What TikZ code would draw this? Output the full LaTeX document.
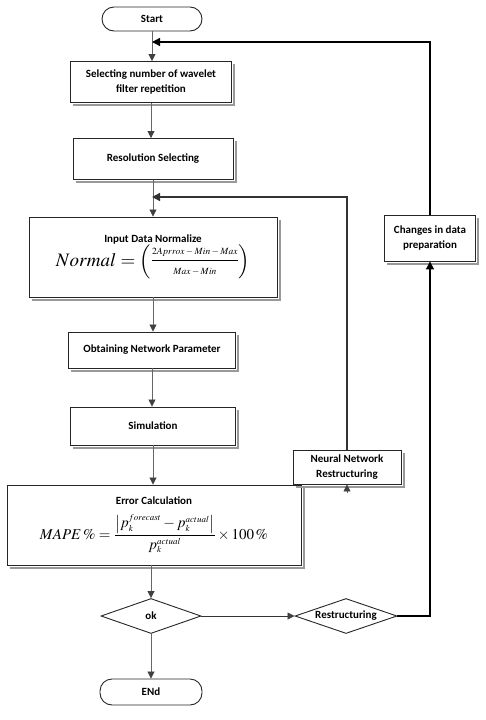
\documentclass[tikz,border=0pt]{standalone}
\usepackage{mathptmx}
\usepackage{fontspec}
\setmainfont{Carlito}
\usetikzlibrary{arrows.meta, shapes.geometric}

\newcommand{\tinysc}[1]{{\scriptscriptstyle #1}}

\begin{document}
\begin{tikzpicture}[
  x=1pt, y=-1pt,
  font=\fontsize{11}{15}\selectfont\bfseries,
  box/.style={rectangle, draw=black!85, line width=0.9pt, fill=white,
              align=center, inner sep=1pt},
  term/.style={box, rounded corners=12pt},
  decide/.style={diamond, draw=black!85, line width=0.9pt, fill=white,
                 inner sep=0pt, aspect=2.9, minimum width=100pt,
                 minimum height=35pt},
  boxshadow/.style={draw=black!40, line width=2pt},
  flow/.style={-{Triangle[length=7pt, width=7pt, color=black!75]},
               draw=black!60, line width=0.8pt},
  back/.style={-{Triangle[length=8pt, width=8pt]}, draw=black,
               line width=1.3pt}
]
  \useasboundingbox (0,0) rectangle (486,720);

  \node[term, minimum width=100pt, minimum height=24pt] (start) at (152,19) {Start};
  \node[box, minimum width=161pt, minimum height=41pt] (sel) at (151,82)
    {Selecting number of wavelet\\filter repetition};
  \node[box, minimum width=160pt, minimum height=41pt] (res) at (153,159) {Resolution Selecting};
  \node[box, minimum width=248pt, minimum height=80pt] (norm) at (153,257)
    {Input Data Normalize\\[-1pt]
     \fontsize{19}{21}\selectfont\mdseries$Normal=\left(\vcenter{\hbox{\fontsize{9.5}{10}\selectfont
       $\displaystyle\frac{2Aprrox-Min-Max\rule[-5pt]{0pt}{0pt}}{\rule{0pt}{13pt}Max-Min}$}}\right)$};
  \node[box, minimum width=167pt, minimum height=36pt] (param) at (152,350) {Obtaining Network Parameter};
  \node[box, minimum width=165pt, minimum height=38pt] (sim) at (153,426) {Simulation};
  \node[box, minimum width=294pt, minimum height=80pt] (err) at (154,525)
    {Error Calculation\\[9pt]
     \fontsize{15}{17}\selectfont\mdseries$MAPE\,\%=\displaystyle\frac{\left|p_{\tinysc{k}}^{\tinysc{forecast}}-p_{\tinysc{k}}^{\tinysc{actual}}\right|}{p_{\tinysc{k}}^{\tinysc{actual}}}\times 100\,\%$};
  \node[decide] (ok) at (151,616) {ok};
  \node[term, minimum width=102pt, minimum height=26pt] (end) at (151,692) {ENd};
  \node[decide, minimum width=102pt] (rst) at (346,616) {Restructuring};
  \node[box, minimum width=108pt, minimum height=34pt] (nnr) at (347,467)
    {Neural Network\\Restructuring};
  \node[box, minimum width=91pt, minimum height=46pt] (chg) at (430,238)
    {Changes in data\\preparation};

  % shadows along the right and lower edges
  \foreach \n in {sel, res, norm, param, sim, err, nnr, chg}
    \draw[boxshadow] ([shift={(3pt,-2.2pt)}]\n.south west) -- ([shift={(2.2pt,-2.2pt)}]\n.south east)
      -- ([shift={(2.2pt,-3pt)}]\n.north east);

  \coordinate (top) at (152,42);
  \coordinate (mid) at (152,197);
  \coordinate (nnrin) at (347,493);

  \draw[flow] (start) -- (start |- sel.north);
  \draw[flow] (sel) -- (sel |- res.north);
  \draw[flow] (res) -- (res |- norm.north);
  \draw[flow] (norm) -- (norm |- param.north);
  \draw[flow] (param) -- (param |- sim.north);
  \draw[flow] (sim) -- (sim |- err.north);
  \draw[flow] (err.south -| ok) -- (ok.north);
  \draw[flow] (ok) -- (end);
  \draw[flow, draw=black!80] (ok.east) -- (rst.west);
  \draw[flow] (nnrin) -- (nnr.south);
  \draw[back] (rst.east) -| (chg.south);
  \draw[back] (chg.north) |- (top);
  \draw[back, draw=black!80] (nnr.north) |- (mid);
\end{tikzpicture}
\end{document}
